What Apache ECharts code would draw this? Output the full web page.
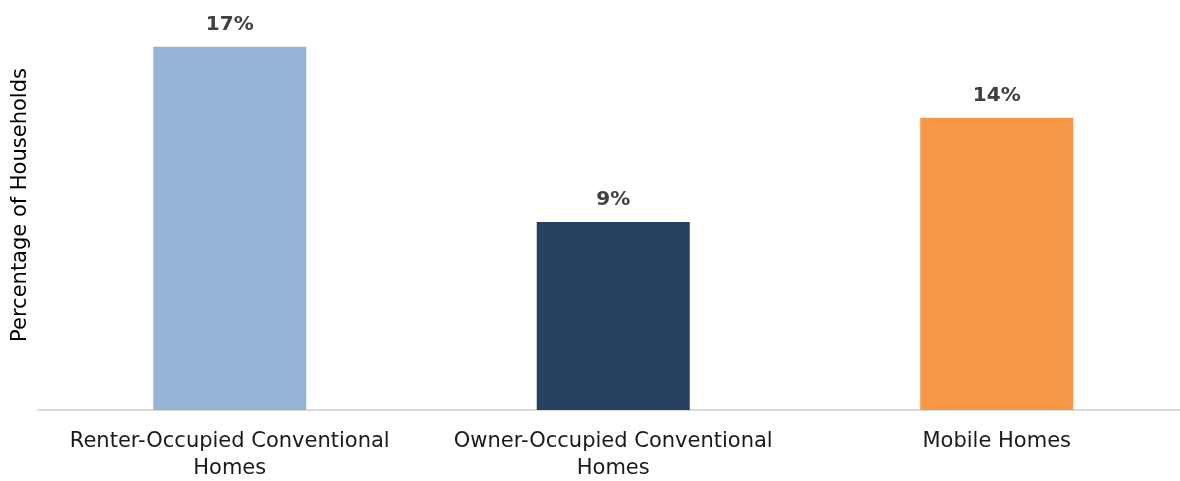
<!DOCTYPE html>
<html>
<head>
<meta charset="utf-8">
<script src="https://cdn.jsdelivr.net/npm/echarts@6/dist/echarts.min.js"></script>
<style>
html,body{margin:0;padding:0;background:#fff;}
#chart{width:1180px;height:481px;}
</style>
</head>
<body>
<div id="chart"></div>
<script>
const categories = ['Renter-Occupied Conventional\nHomes', 'Owner-Occupied Conventional\nHomes', 'Mobile Homes'];
const values = [17.4, 9.0, 14.0];
const valueLabels = ['17%', '9%', '14%'];
const barColors = ['#95B3D7', '#254061', '#F79646'];
const yAxisTitle = 'Percentage of Households';

const chart = echarts.init(document.getElementById('chart'));
chart.setOption({
  animation: false,
  grid: { left: 38, width: 1150.5, top: 0, bottom: 71, containLabel: false, outerBoundsMode: 'none' },
  xAxis: {
    type: 'category',
    data: categories,
    axisLine: { show: true, lineStyle: { color: '#D9D9D9', width: 2 } },
    axisTick: { show: false },
    axisLabel: {
      interval: 0,
      margin: 18,
      color: '#1a1a1a',
      fontFamily: 'DejaVu Sans',
      fontSize: 21,
      lineHeight: 27
    }
  },
  yAxis: {
    type: 'value',
    min: 0,
    max: 19.64,
    name: yAxisTitle,
    nameLocation: 'middle',
    nameGap: 7,
    nameTextStyle: { color: '#000', fontFamily: 'DejaVu Sans', fontSize: 21 },
    axisLine: { show: false },
    axisTick: { show: false },
    axisLabel: { show: false },
    splitLine: { show: false }
  },
  series: [{
    type: 'bar',
    barWidth: 153,
    data: values.map((v, i) => ({ value: v, itemStyle: { color: barColors[i] } })),
    label: {
      show: true,
      position: 'top',
      distance: 12,
      color: '#404040',
      fontFamily: 'DejaVu Sans',
      fontWeight: 'bold',
      fontSize: 20,
      formatter: p => valueLabels[p.dataIndex]
    }
  }]
});
</script>
</body>
</html>
